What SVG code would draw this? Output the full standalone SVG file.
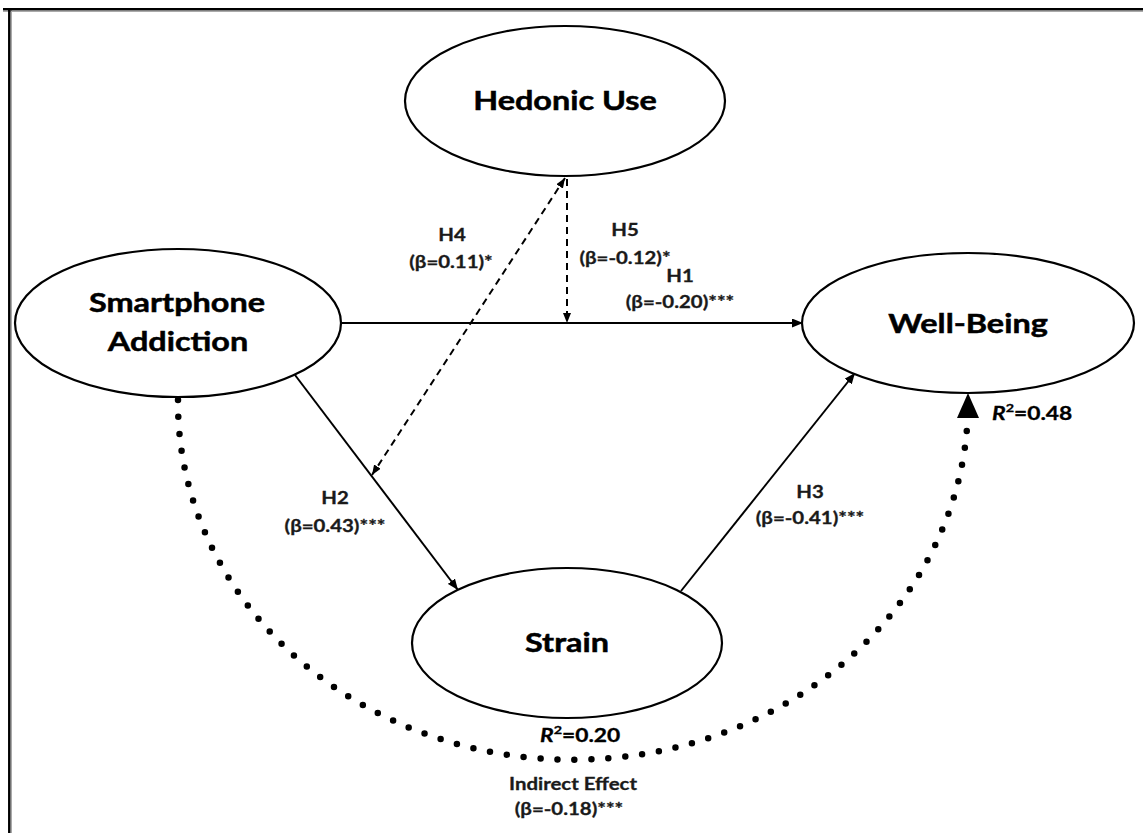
<svg xmlns="http://www.w3.org/2000/svg" width="1143" height="833" viewBox="0 0 1143 833">
<defs>
<style>
.node{fill:#fff;stroke:#000;stroke-width:2.2}
.big{font-family:Lato,"DejaVu Sans",sans-serif;font-weight:bold;font-size:27px;fill:#000;stroke:#000;stroke-width:0.5;text-anchor:middle}
.lbl{font-family:Lato,"DejaVu Sans",sans-serif;font-weight:bold;font-size:17px;fill:#1a1a1a;stroke:#1a1a1a;stroke-width:0.3;text-anchor:middle}
.r2{font-family:Lato,"DejaVu Sans",sans-serif;font-weight:bold;font-size:19px;fill:#000;stroke:#000;stroke-width:0.3}
.solid{fill:none;stroke:#000;stroke-width:2}
.dash{fill:none;stroke:#000;stroke-width:2;stroke-dasharray:7 5}
.dots{fill:none;stroke:#000;stroke-width:6.5;stroke-linecap:round;stroke-dasharray:0 17}
</style>
<marker id="arr" viewBox="0 0 11 9" refX="11" refY="4.5" markerWidth="11" markerHeight="9" markerUnits="userSpaceOnUse" orient="auto"><path d="M0,0 L11,4.5 L0,9 z" fill="#000"/></marker>
<marker id="arrd" viewBox="0 0 10 8" refX="10" refY="4" markerWidth="10" markerHeight="8" markerUnits="userSpaceOnUse" orient="auto-start-reverse"><path d="M0,0 L10,4 L0,8 z" fill="#000"/></marker>
</defs>
<rect width="1143" height="833" fill="#fff"/>
<g id="frame">
<path d="M3,11.5 H1143 M11.5,10 V833" stroke="#aaa" stroke-width="1" fill="none"/>
<path d="M3,9.3 H1143 M9.3,8 V833" stroke="#000" stroke-width="2.5" fill="none"/>
</g>
<g id="connectors">
<path class="solid" d="M342,323 H803" marker-end="url(#arr)"/>
<path class="solid" d="M295,375 L458,590" marker-end="url(#arr)"/>
<path class="solid" d="M681,591 L855,373" marker-end="url(#arr)"/>
<path class="dash" d="M567,179 V323" marker-end="url(#arrd)"/>
<path class="dash" d="M565,178 L372,475" marker-start="url(#arrd)" marker-end="url(#arrd)"/>
<path class="dots" d="M178,400 A395,357 0 0 0 967,428"/>
<polygon points="968,393 979,418 957,418" fill="#000"/>
</g>
<g id="hedonic-use">
<ellipse class="node" cx="565" cy="101" rx="160" ry="75"/>
<text class="big" transform="translate(565,110) scale(1.2,1)">Hedonic Use</text>
</g>
<g id="smartphone-addiction">
<ellipse class="node" cx="178" cy="323" rx="163" ry="74"/>
<text class="big" transform="translate(177,312) scale(1.2,1)">Smartphone</text>
<text class="big" transform="translate(178,351) scale(1.2,1)">Addiction</text>
</g>
<g id="well-being">
<ellipse class="node" cx="968" cy="323" rx="166" ry="70"/>
<text class="big" transform="translate(968,333) scale(1.2,1)">Well-Being</text>
</g>
<g id="strain">
<ellipse class="node" cx="567" cy="643" rx="155" ry="75"/>
<text class="big" transform="translate(567,652) scale(1.2,1)">Strain</text>
</g>
<g id="labels">
<text class="lbl" transform="translate(452,241) scale(1.2,1)">H4</text>
<text class="lbl" transform="translate(451,268) scale(1.2,1)">(β=0.11)*</text>
<text class="lbl" transform="translate(625,236) scale(1.2,1)">H5</text>
<text class="lbl" transform="translate(625,264) scale(1.2,1)">(β=-0.12)*</text>
<text class="lbl" transform="translate(680,282) scale(1.2,1)">H1</text>
<text class="lbl" transform="translate(680,308) scale(1.2,1)">(β=-0.20)***</text>
<text class="lbl" transform="translate(335,504) scale(1.2,1)">H2</text>
<text class="lbl" transform="translate(335,532) scale(1.2,1)">(β=0.43)***</text>
<text class="lbl" transform="translate(810,498) scale(1.2,1)">H3</text>
<text class="lbl" transform="translate(810,524) scale(1.2,1)">(β=-0.41)***</text>
<text class="lbl" transform="translate(573,790) scale(1.2,1)">Indirect Effect</text>
<text class="lbl" transform="translate(569,815) scale(1.2,1)">(β=-0.18)***</text>
<text class="r2" transform="translate(992,420) scale(1.2,1)"><tspan font-style="italic">R</tspan><tspan font-size="12" dy="-8">2</tspan><tspan dy="8">=0.48</tspan></text>
<text class="r2" transform="translate(540,742) scale(1.2,1)"><tspan font-style="italic">R</tspan><tspan font-size="12" dy="-8">2</tspan><tspan dy="8">=0.20</tspan></text>
</g>
</svg>
